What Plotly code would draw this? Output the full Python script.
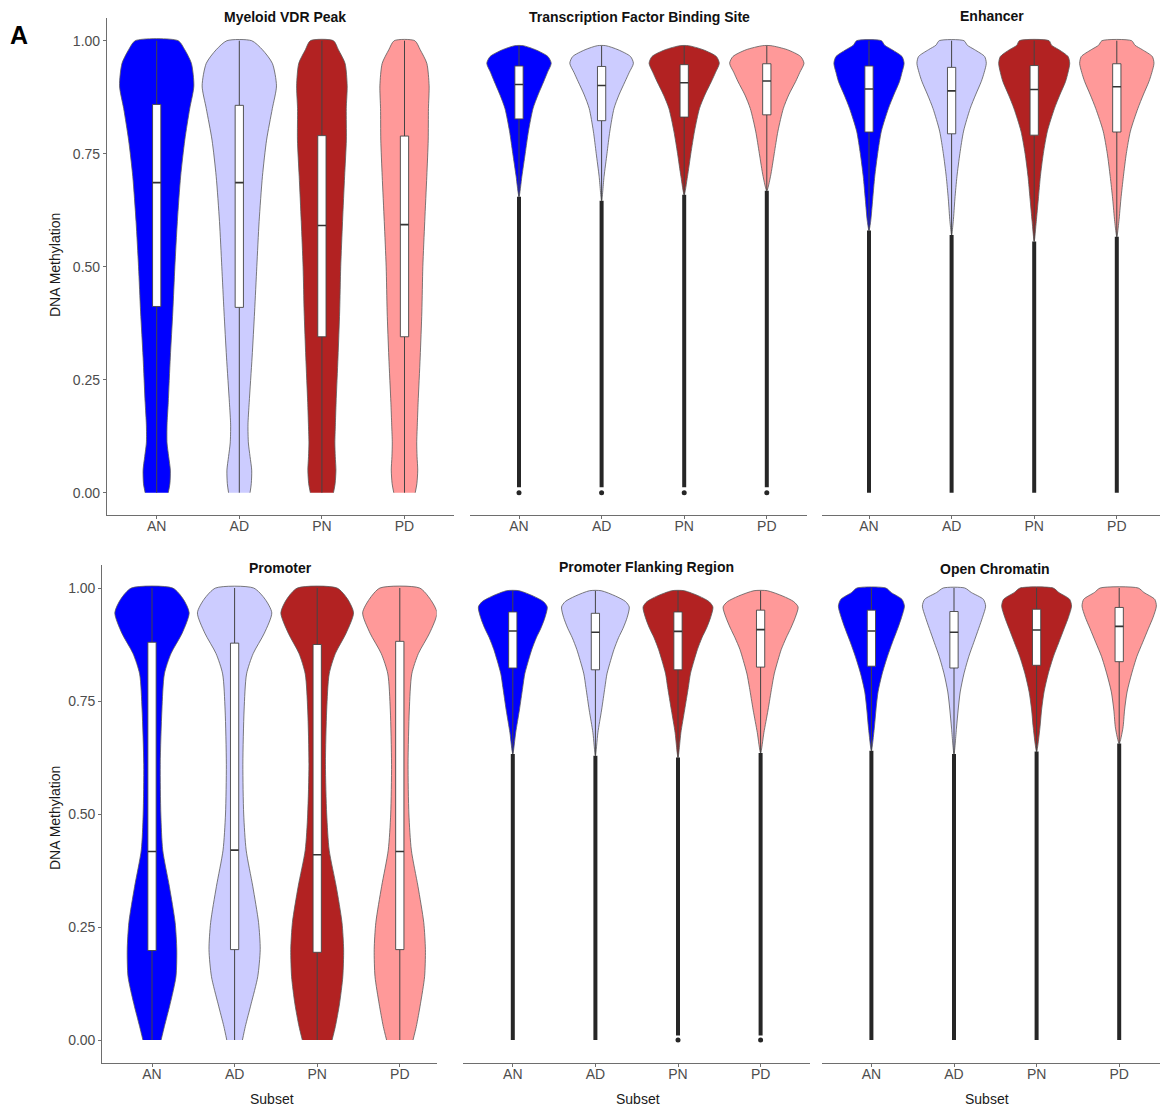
import plotly.graph_objects as go

# ---------------- data ----------------
groups = ["AN", "AD", "PN", "PD"]
violin_colors = ["#0000FF", "#CCCCFF", "#B22222", "#FF9999"]
panel_titles = ["Myeloid VDR Peak", "Transcription Factor Binding Site", "Enhancer",
                "Promoter", "Promoter Flanking Region", "Open Chromatin"]
y_tick_vals = [0, 0.25, 0.5, 0.75, 1.0]
y_tick_text = ["0.00", "0.25", "0.50", "0.75", "1.00"]

# Myeloid VDR Peak : violin half-widths (x units) at methylation levels
vdr_levels = [0, 0.02, 0.05, 0.08, 0.11, 0.15, 0.2, 0.3, 0.4, 0.5, 0.6, 0.7, 0.78, 0.85, 0.9, 0.95, 0.98, 1.0]
vdr_AN = [0.14, 0.16, 0.165, 0.145, 0.125, 0.125, 0.14, 0.165, 0.195, 0.22, 0.25, 0.29, 0.34, 0.40, 0.45, 0.42, 0.34, 0.26]
vdr_AD = [0.13, 0.145, 0.15, 0.13, 0.11, 0.105, 0.12, 0.155, 0.185, 0.212, 0.24, 0.28, 0.33, 0.40, 0.45, 0.40, 0.28, 0.15]
vdr_PN = [0.14, 0.16, 0.17, 0.162, 0.157, 0.163, 0.172, 0.195, 0.215, 0.228, 0.25, 0.275, 0.296, 0.295, 0.306, 0.28, 0.2, 0.14]
vdr_PD = [0.13, 0.15, 0.16, 0.152, 0.148, 0.155, 0.165, 0.19, 0.21, 0.222, 0.245, 0.27, 0.287, 0.29, 0.298, 0.27, 0.19, 0.125]
vdr_tip = [None, None, None, None]
vdr_q1 = [0.412, 0.41, 0.345, 0.345]
vdr_med = [0.686, 0.686, 0.591, 0.593]
vdr_q3 = [0.859, 0.857, 0.79, 0.789]
vdr_lo = [0, 0, 0, 0]
vdr_hi = [1, 1, 1, 1]
vdr_out_lo = [None, None, None, None]
vdr_min = [None, None, None, None]

# Transcription Factor Binding Site
tfbs_levels = [0.70, 0.75, 0.80, 0.85, 0.88, 0.91, 0.93, 0.95, 0.965, 0.98, 0.989]
tfbs_AN = [0.035, 0.075, 0.115, 0.17, 0.23, 0.30, 0.345, 0.39, 0.35, 0.20, 0.05]
tfbs_AD = [0.03, 0.065, 0.10, 0.15, 0.21, 0.285, 0.335, 0.385, 0.35, 0.20, 0.05]
tfbs_PN = [0.04, 0.08, 0.125, 0.185, 0.25, 0.33, 0.38, 0.425, 0.39, 0.23, 0.05]
tfbs_PD = [0.045, 0.09, 0.135, 0.20, 0.265, 0.35, 0.40, 0.45, 0.41, 0.25, 0.05]
tfbs_tip = [0.655, 0.646, 0.659, 0.668]
tfbs_q1 = [0.827, 0.823, 0.831, 0.836]
tfbs_med = [0.903, 0.901, 0.907, 0.911]
tfbs_q3 = [0.944, 0.943, 0.947, 0.949]
tfbs_lo = [0.655, 0.646, 0.659, 0.668]
tfbs_hi = [0.989, 0.989, 0.989, 0.989]
tfbs_out_lo = [0.012, 0.012, 0.012, 0.012]
tfbs_min = [0.0, 0.0, 0.0, 0.0]

# Enhancer
enh_levels = [0.60, 0.65, 0.70, 0.75, 0.80, 0.85, 0.88, 0.91, 0.93, 0.95, 0.965, 0.98, 0.99, 1.0]
enh_AN = [0.02, 0.045, 0.07, 0.105, 0.15, 0.235, 0.30, 0.37, 0.40, 0.425, 0.40, 0.28, 0.19, 0.15]
enh_AD = [0.02, 0.04, 0.065, 0.10, 0.145, 0.225, 0.29, 0.36, 0.395, 0.42, 0.40, 0.28, 0.19, 0.15]
enh_PN = [0.025, 0.05, 0.075, 0.11, 0.16, 0.245, 0.31, 0.38, 0.41, 0.43, 0.41, 0.30, 0.21, 0.18]
enh_PD = [0.025, 0.05, 0.08, 0.115, 0.165, 0.255, 0.32, 0.39, 0.425, 0.45, 0.43, 0.31, 0.22, 0.18]
enh_tip = [0.58, 0.57, 0.556, 0.566]
enh_q1 = [0.798, 0.794, 0.791, 0.798]
enh_med = [0.893, 0.889, 0.892, 0.898]
enh_q3 = [0.944, 0.941, 0.945, 0.949]
enh_lo = [0.58, 0.57, 0.556, 0.566]
enh_hi = [1.0, 1.0, 1.0, 1.0]
enh_out_lo = [0.0, 0.0, 0.0, 0.0]
enh_min = [None, None, None, None]

# Promoter
pro_levels = [0, 0.03, 0.08, 0.14, 0.2, 0.26, 0.34, 0.42, 0.5, 0.61, 0.73, 0.81, 0.855, 0.9, 0.945, 0.975, 1.0]
pro_AN = [0.11, 0.15, 0.22, 0.29, 0.30, 0.28, 0.21, 0.13, 0.107, 0.10, 0.12, 0.15, 0.23, 0.365, 0.45, 0.38, 0.25]
pro_AD = [0.095, 0.13, 0.2, 0.28, 0.31, 0.29, 0.22, 0.14, 0.11, 0.10, 0.115, 0.145, 0.225, 0.36, 0.45, 0.37, 0.23]
pro_PN = [0.18, 0.22, 0.27, 0.31, 0.32, 0.30, 0.23, 0.145, 0.115, 0.10, 0.115, 0.145, 0.22, 0.35, 0.44, 0.37, 0.24]
pro_PD = [0.16, 0.2, 0.25, 0.30, 0.31, 0.29, 0.22, 0.14, 0.11, 0.10, 0.115, 0.145, 0.225, 0.36, 0.45, 0.37, 0.24]
pro_tip = [None, None, None, None]
pro_q1 = [0.198, 0.2, 0.194, 0.2]
pro_med = [0.417, 0.42, 0.41, 0.417]
pro_q3 = [0.88, 0.878, 0.875, 0.882]
pro_lo = [0, 0, 0, 0]
pro_hi = [1, 1, 1, 1]
pro_out_lo = [None, None, None, None]
pro_min = [None, None, None, None]

# Promoter Flanking Region
pfr_levels = [0.68, 0.73, 0.78, 0.81, 0.84, 0.864, 0.89, 0.911, 0.935, 0.958, 0.97, 0.982, 0.994]
pfr_AN = [0.035, 0.08, 0.12, 0.145, 0.19, 0.23, 0.285, 0.34, 0.39, 0.417, 0.37, 0.25, 0.075]
pfr_AD = [0.03, 0.075, 0.115, 0.14, 0.185, 0.225, 0.28, 0.335, 0.385, 0.41, 0.365, 0.245, 0.07]
pfr_PN = [0.035, 0.08, 0.125, 0.15, 0.195, 0.235, 0.29, 0.345, 0.395, 0.423, 0.375, 0.255, 0.075]
pfr_PD = [0.04, 0.09, 0.135, 0.165, 0.21, 0.25, 0.31, 0.365, 0.42, 0.454, 0.40, 0.27, 0.08]
pfr_tip = [0.633, 0.629, 0.625, 0.635]
pfr_q1 = [0.823, 0.819, 0.819, 0.825]
pfr_med = [0.905, 0.902, 0.904, 0.908]
pfr_q3 = [0.947, 0.944, 0.947, 0.951]
pfr_lo = [0.633, 0.629, 0.625, 0.635]
pfr_hi = [0.994, 0.994, 0.994, 0.994]
pfr_out_lo = [0.0, 0.0, 0.01, 0.01]
pfr_min = [None, None, 0.0, 0.0]

# Open Chromatin
oc_levels = [0.69, 0.73, 0.77, 0.81, 0.849, 0.88, 0.911, 0.935, 0.96, 0.975, 0.99, 1.0]
oc_AN = [0.035, 0.055, 0.08, 0.13, 0.195, 0.255, 0.32, 0.365, 0.40, 0.37, 0.24, 0.175]
oc_AD = [0.03, 0.05, 0.075, 0.12, 0.18, 0.24, 0.30, 0.345, 0.383, 0.355, 0.21, 0.13]
oc_PN = [0.04, 0.06, 0.09, 0.14, 0.205, 0.27, 0.335, 0.385, 0.423, 0.40, 0.27, 0.20]
oc_PD = [0.045, 0.065, 0.095, 0.15, 0.215, 0.285, 0.355, 0.41, 0.45, 0.43, 0.30, 0.23]
oc_tip = [0.64, 0.633, 0.638, 0.656]
oc_q1 = [0.827, 0.823, 0.829, 0.837]
oc_med = [0.905, 0.902, 0.907, 0.915]
oc_q3 = [0.951, 0.948, 0.953, 0.957]
oc_lo = [0.64, 0.633, 0.638, 0.656]
oc_hi = [1.0, 1.0, 1.0, 1.0]
oc_out_lo = [0.0, 0.0, 0.0, 0.0]
oc_min = [None, None, None, None]

panels = [
    dict(levels=vdr_levels, widths=[vdr_AN, vdr_AD, vdr_PN, vdr_PD], tip=vdr_tip, q1=vdr_q1, med=vdr_med,
         q3=vdr_q3, lo=vdr_lo, hi=vdr_hi, out_lo=vdr_out_lo, mn=vdr_min),
    dict(levels=tfbs_levels, widths=[tfbs_AN, tfbs_AD, tfbs_PN, tfbs_PD], tip=tfbs_tip, q1=tfbs_q1, med=tfbs_med,
         q3=tfbs_q3, lo=tfbs_lo, hi=tfbs_hi, out_lo=tfbs_out_lo, mn=tfbs_min),
    dict(levels=enh_levels, widths=[enh_AN, enh_AD, enh_PN, enh_PD], tip=enh_tip, q1=enh_q1, med=enh_med,
         q3=enh_q3, lo=enh_lo, hi=enh_hi, out_lo=enh_out_lo, mn=enh_min),
    dict(levels=pro_levels, widths=[pro_AN, pro_AD, pro_PN, pro_PD], tip=pro_tip, q1=pro_q1, med=pro_med,
         q3=pro_q3, lo=pro_lo, hi=pro_hi, out_lo=pro_out_lo, mn=pro_min),
    dict(levels=pfr_levels, widths=[pfr_AN, pfr_AD, pfr_PN, pfr_PD], tip=pfr_tip, q1=pfr_q1, med=pfr_med,
         q3=pfr_q3, lo=pfr_lo, hi=pfr_hi, out_lo=pfr_out_lo, mn=pfr_min),
    dict(levels=oc_levels, widths=[oc_AN, oc_AD, oc_PN, oc_PD], tip=oc_tip, q1=oc_q1, med=oc_med,
         q3=oc_q3, lo=oc_lo, hi=oc_hi, out_lo=oc_out_lo, mn=oc_min),
]

# ---------------- layout geometry (page pixels) ----------------
OFF = 8                      # default body margin of the html page
W, H = 1168 - OFF, 1106 - OFF
SP = 82.6                    # pixels per category
BOX_HALF = 0.05              # half box width in category units
# (left px, right px, first-category centre px)
panel_x = [(107, 453.5, 156.7), (470, 807.3, 519), (822, 1167, 869),
           (102.3, 436.7, 152), (463, 810, 512.8), (822, 1167.5, 871.4)]
# rows: (value 0 px, value 1 px, domain top px, domain bottom px)
row_y = [(492.7, 40.7, 18.1, 515.3), (1040, 588, 565.4, 1062.6)]

FONT = "Liberation Sans, Arial, sans-serif"
AXIS_COL = "#6e6e6e"
TICK_FONT = dict(family=FONT, size=14, color="#4d4d4d")


def fx(px):
    return (px - OFF) / W


def fy(py):
    return 1 - (py - OFF) / H


fig = go.Figure()
layout = {}


def add_line(xs, ys, xname, yname, color, width):
    fig.add_trace(go.Scatter(x=xs, y=ys, mode="lines", line=dict(color=color, width=width),
                             hoverinfo="skip", showlegend=False, xaxis=xname, yaxis=yname))


for k, p in enumerate(panels):
    sfx = "" if k == 0 else str(k + 1)
    xname, yname = "x" + sfx, "y" + sfx
    x0, x1, c0 = panel_x[k]
    z, o, t, b = row_y[k // 3]
    unit = z - o
    layout["xaxis" + sfx] = dict(
        domain=[fx(x0), fx(x1)], anchor=yname,
        range=[1 - (c0 - x0) / SP, 1 + (x1 - c0) / SP],
        tickvals=[1, 2, 3, 4], ticktext=groups, ticks="outside", ticklen=3, tickwidth=1,
        tickcolor=AXIS_COL, showline=True, linecolor=AXIS_COL, linewidth=1.2,
        ticklabelstandoff=-5,
        showgrid=False, zeroline=False, tickfont=TICK_FONT, fixedrange=True)
    yax = dict(
        domain=[fy(b), fy(t)], anchor=xname,
        range=[-(b - z) / unit, 1 + (o - t) / unit],
        showgrid=False, zeroline=False, fixedrange=True)
    if k % 3 == 0:
        yax.update(tickvals=y_tick_vals, ticktext=y_tick_text, ticks="outside", ticklen=3, tickwidth=1,
                   tickcolor=AXIS_COL, showline=True, linecolor=AXIS_COL, linewidth=1.2,
                   tickfont=TICK_FONT)
    else:
        yax.update(visible=False)
    layout["yaxis" + sfx] = yax

    for i, g in enumerate(groups):
        xc = i + 1
        lv = p["levels"]
        hw = p["widths"][i]
        tip = p["tip"][i]
        xs = [xc + w for w in hw] + [xc - w for w in reversed(hw)]
        ys = list(lv) + list(reversed(lv))
        if tip is not None:
            xs = [xc] + xs + [xc]
            ys = [tip] + ys + [tip]
        # violin body
        fig.add_trace(go.Scatter(
            x=xs, y=ys, mode="lines", fill="toself", fillcolor=violin_colors[i],
            line=dict(color="#5a5a5a", width=0.8, shape="spline", smoothing=0.7),
            hoverinfo="skip", showlegend=False, xaxis=xname, yaxis=yname))
        # whiskers
        add_line([xc, xc], [p["lo"][i], p["q1"][i]], xname, yname, "#444444", 1)
        add_line([xc, xc], [p["q3"][i], p["hi"][i]], xname, yname, "#444444", 1)
        # dense outlier points below lower whisker
        if p["out_lo"][i] is not None:
            add_line([xc, xc], [p["out_lo"][i], p["lo"][i]], xname, yname, "#262626", 4)
        if p["mn"][i] is not None:
            fig.add_trace(go.Scatter(
                x=[xc], y=[p["mn"][i]], mode="markers",
                marker=dict(color="#262626", size=5), hoverinfo="skip", showlegend=False,
                xaxis=xname, yaxis=yname))
        # box (q1..q3)
        bx = [xc - BOX_HALF, xc + BOX_HALF, xc + BOX_HALF, xc - BOX_HALF, xc - BOX_HALF]
        by = [p["q1"][i], p["q1"][i], p["q3"][i], p["q3"][i], p["q1"][i]]
        fig.add_trace(go.Scatter(
            x=bx, y=by, mode="lines", fill="toself", fillcolor="white",
            line=dict(color="#444444", width=0.9), hoverinfo="skip", showlegend=False,
            xaxis=xname, yaxis=yname))
        # median
        add_line([xc - BOX_HALF, xc + BOX_HALF], [p["med"][i], p["med"][i]], xname, yname, "#333333", 1.6)

# ---------------- annotations ----------------
annotations = []
title_pos = [(285, 17), (639, 17), (992, 16), (280, 568), (646, 567), (995, 569)]
for (tx, ty), txt in zip(title_pos, panel_titles):
    annotations.append(dict(x=fx(tx), y=fy(ty), xref="paper", yref="paper", text="<b>" + txt + "</b>",
                            showarrow=False, xanchor="center", yanchor="middle",
                            font=dict(family=FONT, size=14, color="#111111")))
for yy in (265, 818):
    annotations.append(dict(x=fx(55), y=fy(yy), xref="paper", yref="paper", text="DNA Methylation",
                            textangle=-90, showarrow=False, xanchor="center", yanchor="middle",
                            font=dict(family=FONT, size=14, color="#1a1a1a")))
for xx in (272, 638, 987):
    annotations.append(dict(x=fx(xx), y=fy(1099), xref="paper", yref="paper", text="Subset",
                            showarrow=False, xanchor="center", yanchor="middle",
                            font=dict(family=FONT, size=14, color="#1a1a1a")))
annotations.append(dict(x=fx(19), y=fy(35), xref="paper", yref="paper", text="<b>A</b>",
                        showarrow=False, xanchor="center", yanchor="middle",
                        font=dict(family=FONT, size=25, color="#000000")))

fig.update_layout(
    width=W, height=H, margin=dict(l=0, r=0, t=0, b=0),
    paper_bgcolor="white", plot_bgcolor="white", showlegend=False,
    annotations=annotations, **layout)

fig.write_html("out.html")
